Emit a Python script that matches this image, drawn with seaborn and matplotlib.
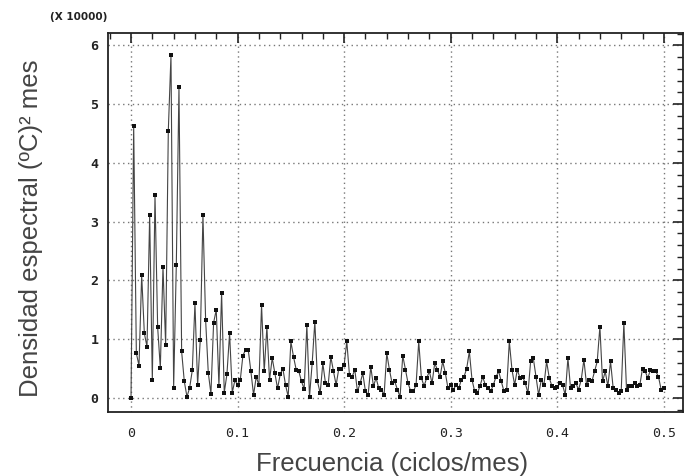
import numpy as np
import matplotlib
matplotlib.use("Agg")
import matplotlib.pyplot as plt
import seaborn as sns
from matplotlib.ticker import MultipleLocator

# densidad espectral (x 10000), frecuencias equiespaciadas de 0 a 0.5 ciclos/mes
densidad = [
    0.00, 4.63, 0.76, 0.55, 2.09, 1.10, 0.87, 3.11, 0.30, 3.45,
    1.20, 0.51, 2.23, 0.90, 4.55, 5.83, 0.17, 2.26, 5.29, 0.79,
    0.28, 0.02, 0.17, 0.47, 1.61, 0.22, 0.99, 3.11, 1.33, 0.43,
    0.07, 1.28, 1.50, 0.20, 1.79, 0.09, 0.40, 1.10, 0.09, 0.30,
    0.22, 0.30, 0.72, 0.82, 0.82, 0.45, 0.05, 0.36, 0.22, 1.58,
    0.45, 1.21, 0.30, 0.68, 0.42, 0.16, 0.40, 0.50, 0.22, 0.02,
    0.96, 0.70, 0.48, 0.45, 0.28, 0.15, 1.24, 0.02, 0.59, 1.30,
    0.28, 0.08, 0.59, 0.25, 0.22, 0.70, 0.45, 0.22, 0.50, 0.50,
    0.56, 0.96, 0.39, 0.36, 0.48, 0.11, 0.25, 0.42, 0.11, 0.05,
    0.53, 0.20, 0.34, 0.16, 0.14, 0.05, 0.76, 0.48, 0.25, 0.28,
    0.14, 0.02, 0.72, 0.48, 0.25, 0.11, 0.11, 0.22, 0.96, 0.34,
    0.20, 0.34, 0.45, 0.25, 0.59, 0.48, 0.36, 0.62, 0.42, 0.16,
    0.22, 0.14, 0.22, 0.16, 0.31, 0.36, 0.50, 0.79, 0.31, 0.11,
    0.08, 0.20, 0.36, 0.22, 0.16, 0.11, 0.22, 0.36, 0.45, 0.28,
    0.11, 0.14, 0.96, 0.48, 0.22, 0.48, 0.34, 0.36, 0.25, 0.08,
    0.62, 0.68, 0.36, 0.05, 0.31, 0.22, 0.62, 0.34, 0.20, 0.16,
    0.18, 0.25, 0.22, 0.05, 0.68, 0.16, 0.20, 0.25, 0.14, 0.31,
    0.65, 0.22, 0.31, 0.28, 0.45, 0.62, 1.21, 0.28, 0.45, 0.20,
    0.62, 0.16, 0.14, 0.08, 0.11, 1.27, 0.14, 0.20, 0.20, 0.25,
    0.20, 0.22, 0.50, 0.45, 0.34, 0.48, 0.45, 0.45, 0.36, 0.14,
    0.16,
]
frecuencia = np.linspace(0, 0.5, len(densidad))

xticks = [0, 0.1, 0.2, 0.3, 0.4, 0.5]
xtick_labels = ["0", "0.1", "0.2", "0.3", "0.4", "0.5"]
yticks = [0, 1, 2, 3, 4, 5, 6]

sns.set_style("white")

fig = plt.figure(figsize=(6.86, 4.76), dpi=100)
ax = fig.add_axes([108 / 686, 1 - 412 / 476, 575 / 686, 379 / 476])

sns.lineplot(x=frecuencia, y=densidad, ax=ax, color="#444444", linewidth=0.8,
             marker="s", markersize=3.2, markeredgewidth=0,
             markerfacecolor="#111111", estimator=None, sort=False)

ax.set_xlim(-0.0216, 0.518)
ax.set_ylim(-0.24, 6.21)

ax.set_xticks(xticks)
ax.set_xticklabels(xtick_labels, family="DejaVu Sans Mono", fontsize=9.5, color="#222222")
ax.set_yticks(yticks)
ax.set_yticklabels([str(v) for v in yticks], family="DejaVu Sans Mono", fontsize=9.5,
                   fontweight="bold", color="#222222")
ax.xaxis.set_minor_locator(MultipleLocator(0.02))
ax.yaxis.set_minor_locator(MultipleLocator(0.2))

ax.tick_params(which="both", direction="in", top=True, right=True, color="#222222")
ax.tick_params(which="major", length=7, width=1.2)
ax.tick_params(which="minor", length=4, width=1.0)
ax.tick_params(axis="x", which="major", pad=11)
ax.tick_params(axis="y", which="major", pad=7)

ax.grid(True, which="major", color="#777777", linestyle=(0, (1, 2.5)), linewidth=1.0)
for s in ax.spines.values():
    s.set_color("#222222")
    s.set_linewidth(1.3)

ax.set_xlabel("Frecuencia (ciclos/mes)", fontsize=18.5, color="#444444",
              family="Liberation Sans")
ax.set_ylabel("Densidad espectral (ºC)² mes", fontsize=18.5, color="#444444",
              family="Liberation Sans")
ax.xaxis.set_label_coords(0.494, -0.105)
ax.yaxis.set_label_coords(-0.113, 0.485)

fig.text(50 / 686, 1 - 17 / 476, "(X 10000)", fontsize=7.5, fontweight="bold",
         color="#222222", va="center", ha="left")

fig.savefig("out.png", dpi=100)
